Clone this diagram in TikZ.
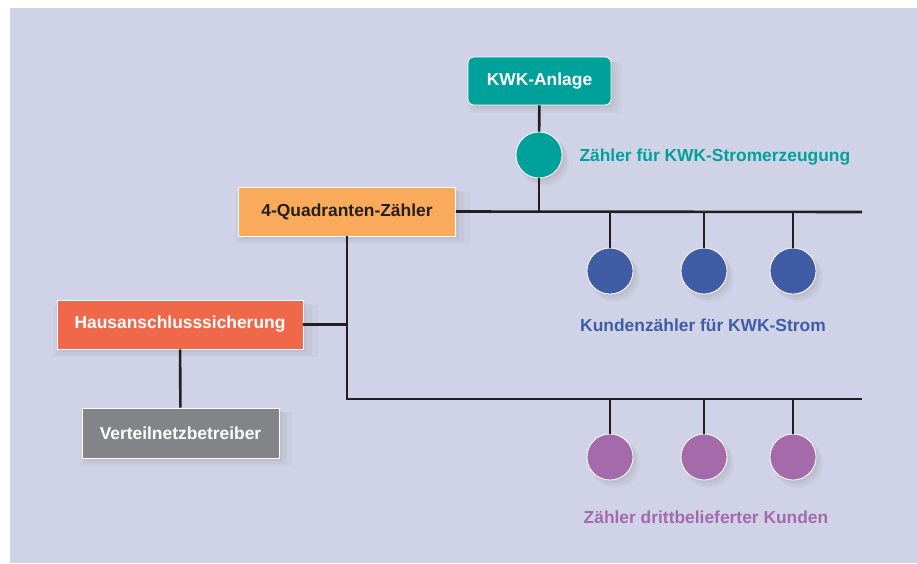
\documentclass[tikz,border=0pt]{standalone}
\usepackage{fontspec}
\setmainfont{Liberation Sans}
\usetikzlibrary{shadows,calc}
\definecolor{cbg}{RGB}{208,211,232}
\definecolor{cteal}{RGB}{0,161,154}
\definecolor{corange}{RGB}{249,170,90}
\definecolor{cred}{RGB}{240,104,74}
\definecolor{cgray}{RGB}{131,132,136}
\definecolor{cblue}{RGB}{63,92,165}
\definecolor{cpurple}{RGB}{164,106,170}
\definecolor{cwire}{RGB}{35,31,32}

\begin{document}
\begin{tikzpicture}[x=1pt,y=-1pt,
  softshadow/.style={
    drop shadow={opacity=0.06,shadow xshift=5pt,shadow yshift=-6pt,shadow scale=1.08},
    drop shadow={opacity=0.08,shadow xshift=4pt,shadow yshift=-5pt,shadow scale=1.04},
    drop shadow={opacity=0.10,shadow xshift=3pt,shadow yshift=-3pt}},
  box/.style={draw=white,line width=0.8pt,minimum height=49pt,text=white,
    font=\fontsize{17.4}{20}\selectfont\bfseries,softshadow},
  meter/.style={circle,draw=white,line width=0.8pt,minimum size=46pt,inner sep=0pt,softshadow},
  wire/.style={cwire,line width=2.6pt},
  lbl/.style={font=\fontsize{17.4}{20}\selectfont\bfseries},
]

% panel
\useasboundingbox (0,0) rectangle (917,563);
\fill[white] (0,0) rectangle (917,563);
\fill[cbg] (10,8) rectangle (917,563);

% boxes
\node[box,rounded corners=6pt,fill=cteal,minimum width=143pt,minimum height=48pt] (kwk) at (539.5,81) {KWK-Anlage};
\node[box,fill=corange,text=cwire,minimum width=217pt] (quad) at (347,211.5) {4-Quadranten-Zähler};
\node[box,fill=cred,minimum width=246pt] (haus) at (180,324.5) {Hausanschlusssicherung};
\node[box,fill=cgray,minimum width=197pt,minimum height=50pt] (vnb) at (180.5,433) {Verteilnetzbetreiber};

% meters
\node[meter,fill=cteal] (mkwk) at (539,155) {};
\foreach \x [count=\i] in {610,704,793}{
  \node[meter,fill=cblue] (k\i) at (\x,271) {};
  \node[meter,fill=cpurple] (d\i) at (\x,457) {};
}

% bus ends
\coordinate (busend) at (862,212);
\coordinate (lowend) at (862,399);
\coordinate (lowstart) at (quad.south |- lowend);

% wires
\draw[wire] (quad.east) -- (busend);
\draw[wire] (kwk) -- (mkwk);
\draw[wire] (mkwk) -- (mkwk |- busend);
\foreach \i in {1,2,3}{
  \draw[wire] (k\i) -- (k\i |- busend);
  \draw[wire] (d\i) -- (d\i |- lowend);
}
\draw[wire] (quad.south) -- (lowstart) -- (lowend);
\draw[wire] (haus.east) -- (haus.east -| lowstart);
\draw[wire] (haus) -- (vnb);

% labels
\node[lbl,text=cteal,anchor=west] (lkwk) at (576,157) {Zähler für KWK-Stromerzeugung};
\node[lbl,text=cblue] (lkunden) at (703,325) {Kundenzähler für KWK-Strom};
\node[lbl,text=cpurple] (ldritt) at (706,517) {Zähler drittbelieferter Kunden};

\end{tikzpicture}
\end{document}
